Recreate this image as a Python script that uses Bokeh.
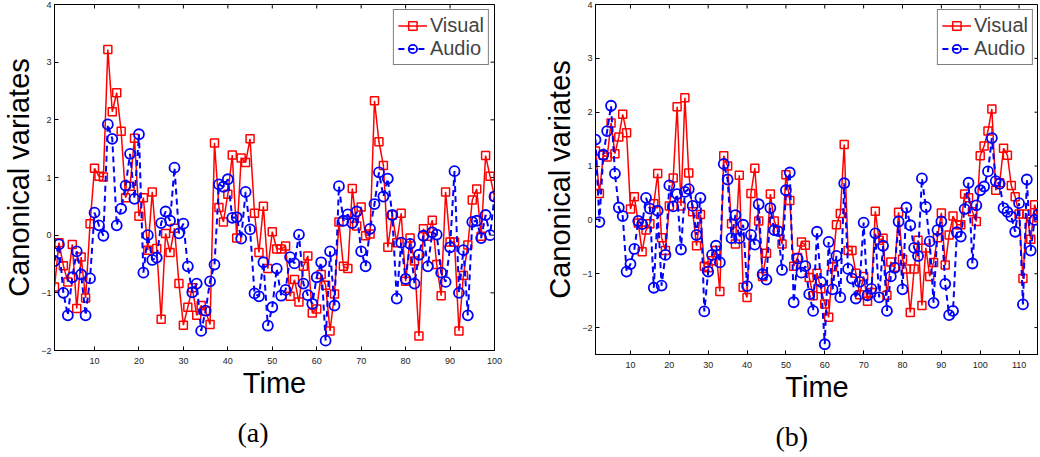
import math
from bokeh.plotting import figure
from bokeh.models import Range1d, Legend, LegendItem, Title, FixedTicker, ColumnDataSource
from bokeh.layouts import row
from bokeh.embed import file_html
from bokeh.resources import INLINE

# ---------------- data ----------------
time_a = list(range(1, 101))
visual_a = [-0.90, -0.13, -0.53, -0.81, -0.16, -1.27, -0.38, -1.09, 0.20, 1.16,
            1.02, 1.01, 3.22, 2.14, 2.47, 1.80, 0.65, 0.85, 1.68, 0.33,
            0.65, -0.26, 0.75, -0.23, -1.46, 0.03, -0.30, 0.12, -0.84, -1.56,
            -1.25, -0.91, -1.39, -1.22, -1.32, -1.55, 1.60, 0.48, 0.23, 0.71,
            1.39, -0.05, 1.34, 1.26, 1.67, 0.38, -0.30, 0.50, -0.58, 0.06,
            -0.24, -0.24, -0.19, -1.06, -0.77, -1.16, -0.54, -0.36, -1.35, -1.28,
            -0.68, -0.87, -1.66, -1.02, 0.23, -0.54, -0.58, 0.81, 0.16, 0.49,
            -0.01, 0.02, 2.33, 1.62, 1.21, -0.21, 0.35, -0.13, 0.38, -0.80,
            -0.05, -0.45, -1.75, 0.11, -0.02, 0.26, -0.51, -1.05, 0.75, -0.12,
            -0.12, -1.66, -0.70, -0.17, 0.61, 0.80, -0.02, 1.38, 1.02, 0.67]
audio_a = [-0.45, -0.16, -1.00, -1.39, -0.73, -0.28, -0.68, -1.39, -0.75, 0.39,
           0.17, -0.01, 1.92, 1.67, 0.17, 0.46, 0.86, 1.41, 0.63, 1.75,
           -0.65, 0.00, -0.43, -0.39, 0.21, 0.41, 0.25, 1.17, 0.03, 0.20,
           -0.54, -0.99, -0.84, -1.66, -1.31, -0.80, -0.51, 0.88, 0.84, 0.97,
           0.30, 0.31, -0.06, 0.75, 0.10, -1.01, -1.06, -0.47, -1.57, -1.25,
           -0.58, -1.05, -0.95, -0.38, -0.49, 0.01, -0.84, -1.04, -1.19, -0.73,
           -0.47, -1.83, -0.28, -1.22, 0.85, 0.25, 0.36, 0.21, 0.41, -0.28,
           -0.54, 0.11, 0.54, 1.09, 0.67, 0.98, 0.35, -1.10, -0.13, -0.76,
           -0.15, -0.84, -0.34, -0.01, -0.54, 0.05, 0.01, -0.65, -0.81, -0.21,
           1.11, -1.00, -0.26, -1.39, 0.23, 0.25, -0.05, 0.35, 0.00, 0.67]

time_b = list(range(1, 116))
visual_b = [1.28, 0.49, 1.20, 1.17, 1.80, 1.23, 1.54, 1.96, 1.62, 0.20,
            0.43, -0.06, -0.59, -0.19, -0.07, 0.30, 0.86, -0.33, -0.57, 0.26,
            0.78, 2.10, 0.26, 2.27, 0.87, 0.15, -0.48, 0.10, -0.86, -0.89,
            -0.76, -0.57, -1.33, 1.19, 1.00, -0.07, -0.45, 0.83, -1.25, -1.44,
            0.49, 0.96, -0.02, -1.05, -0.62, 0.48, -0.02, -0.21, -0.45, 0.84,
            0.36, -0.86, -0.70, -0.41, -0.47, -1.07, -1.41, -0.99, -1.28, -1.56,
            -1.81, -0.87, -0.09, 0.12, 1.40, -0.57, -0.57, -0.99, -1.39, -1.05,
            -1.51, -1.35, 0.16, -0.38, -0.34, -1.40, -0.78, -0.88, 0.14, -0.73,
            -0.91, -1.72, -0.91, -0.38, -1.59, -0.52, -1.05, -0.79, -0.33, 0.13,
            -0.84, -0.28, 0.07, -0.09, -0.09, 0.48, 0.41, 0.15, -0.03, 1.19,
            1.37, 1.65, 2.06, 0.55, 0.69, 1.33, 1.20, 0.64, 0.43, 0.11,
            -1.09, 0.11, -0.36, 0.28, 0.04]
audio_b = [1.49, -0.04, 1.21, 1.65, 2.12, 0.86, 0.23, 0.07, -0.96, -0.82,
           -0.54, -0.02, -0.08, 0.41, 0.21, -1.26, 0.17, -1.22, -0.65, 0.64,
           0.25, 0.48, -0.55, 0.52, 0.57, 0.26, -0.28, 0.41, -1.70, -0.96,
           -0.65, -0.48, -0.79, 1.04, 0.75, -0.34, 0.09, -0.34, -0.09, -1.23,
           -0.28, -0.46, 0.29, -1.01, -1.11, 0.22, -0.19, -0.21, -0.93, 0.55,
           0.88, -1.53, -0.72, -0.98, -0.86, -1.38, -1.69, -0.22, -1.15, -2.31,
           -0.41, -1.29, -0.67, -1.44, 0.68, -0.91, -1.09, -1.46, -1.15, -0.05,
           -1.40, -1.28, -0.25, -1.44, -0.48, -1.69, -1.05, -0.89, -0.03, -1.29,
           0.23, -0.10, -0.52, -0.67, 0.77, 0.24, -0.40, -1.54, -0.19, -0.03,
           -1.19, -1.77, -1.69, -0.23, -0.31, 0.20, 0.69, -0.81, 0.27, 0.55,
           0.62, 0.90, 1.52, 0.72, 0.67, 0.22, 0.15, 0.06, -0.22, 0.31,
           -1.57, 0.75, -0.57, 0.00, 0.10]

x_ticks_a = [10, 20, 30, 40, 50, 60, 70, 80, 90, 100]
x_ticks_b = [10, 20, 30, 40, 50, 60, 70, 80, 90, 100, 110]
y_ticks = [-2, -1, 0, 1, 2, 3, 4]
series_labels = ["Visual", "Audio"]
x_label = "Time"
y_label = "Canonical variates"
captions = ["(a)", "(b)"]

SANS = "Liberation Sans"
SERIF = "Liberation Serif"


def style_axis(ax):
    ax.axis_line_color = "black"
    ax.axis_line_width = 1
    ax.major_tick_line_color = "black"
    ax.major_tick_in = 4
    ax.major_tick_out = 0
    ax.minor_tick_line_color = None
    ax.major_label_text_font = SANS
    ax.major_label_text_font_size = "9px"
    ax.major_label_text_color = "#222222"
    ax.axis_label_text_font = SANS
    ax.axis_label_text_font_size = "29px"
    ax.axis_label_text_font_style = "normal"
    ax.axis_label_text_color = "black"


def make_panel(t, vis, aud, xmax, ymin, xticks, caption, b_left, b_right, b_top,
               f_w, f_h, b_bottom, cap_off):
    ymax = 4
    p = figure(x_range=Range1d(1, xmax), y_range=Range1d(ymin, ymax),
               frame_width=f_w, frame_height=f_h,
               min_border_left=b_left, min_border_right=b_right,
               min_border_top=b_top, min_border_bottom=b_bottom,
               output_backend="svg", toolbar_location=None,
               background_fill_color="white", border_fill_color="white")
    p.xgrid.visible = False
    p.ygrid.visible = False
    p.outline_line_color = "black"
    p.outline_line_width = 1

    p.xaxis.ticker = FixedTicker(ticks=xticks)
    p.yaxis.ticker = FixedTicker(ticks=y_ticks)
    p.xaxis.axis_label = x_label
    p.yaxis.axis_label = y_label
    style_axis(p.xaxis[0])
    style_axis(p.yaxis[0])
    p.xaxis.major_label_standoff = 7
    p.xaxis.axis_label_standoff = 0
    p.yaxis.major_label_standoff = 3
    p.yaxis.axis_label_standoff = 3

    # inward ticks on the top and right edges of the box (half of each dash is clipped by the frame)
    top_src = ColumnDataSource(dict(x=xticks, y=[ymax] * len(xticks)))
    p.scatter("x", "y", source=top_src, marker="dash", size=8, angle=math.pi / 2,
              line_color="black", line_width=1)
    yr = [v for v in y_ticks if ymin < v < ymax]
    right_src = ColumnDataSource(dict(x=[xmax] * len(yr), y=yr))
    p.scatter("x", "y", source=right_src, marker="dash", size=8,
              line_color="black", line_width=1)

    src = ColumnDataSource(dict(t=t, vis=vis, aud=aud))
    rl = p.line("t", "vis", source=src, line_color="red", line_width=1.5)
    rs = p.scatter("t", "vis", source=src, marker="square", size=8,
                   line_color="red", fill_color=None, line_width=1.5)
    bl = p.line("t", "aud", source=src, line_color="blue", line_width=2, line_dash="6 4")
    bs = p.scatter("t", "aud", source=src, marker="circle", size=10,
                   line_color="blue", fill_color=None, line_width=1.8)

    legend = Legend(items=[LegendItem(label=series_labels[0], renderers=[rl, rs]),
                           LegendItem(label=series_labels[1], renderers=[bl, bs])],
                    location="top_right")
    legend.label_text_font = SANS
    legend.label_text_font_size = "20px"
    legend.border_line_color = "black"
    legend.border_line_width = 1
    legend.padding = 4
    legend.spacing = 0
    legend.margin = 5
    legend.glyph_width = 29
    legend.glyph_height = 21
    legend.label_height = 21
    legend.label_standoff = 3
    legend.background_fill_alpha = 1
    p.add_layout(legend)

    cap = Title(text=caption, align="left", offset=cap_off, text_font=SERIF,
                text_font_size="28px", text_font_style="normal", text_color="black",
                standoff=26)
    p.add_layout(cap, "below")
    return p


pa = make_panel(time_a, visual_a, audio_a, 100, -2, x_ticks_a, captions[0],
                46, 47, 4, 440, 346, 99, 183)
pb = make_panel(time_b, visual_b, audio_b, 115, -2.5, x_ticks_b, captions[1],
                52, 0, 0, 443, 350, 99, 180)

layout = row(pa, pb)
open("out.html", "w").write(file_html(layout, INLINE))
